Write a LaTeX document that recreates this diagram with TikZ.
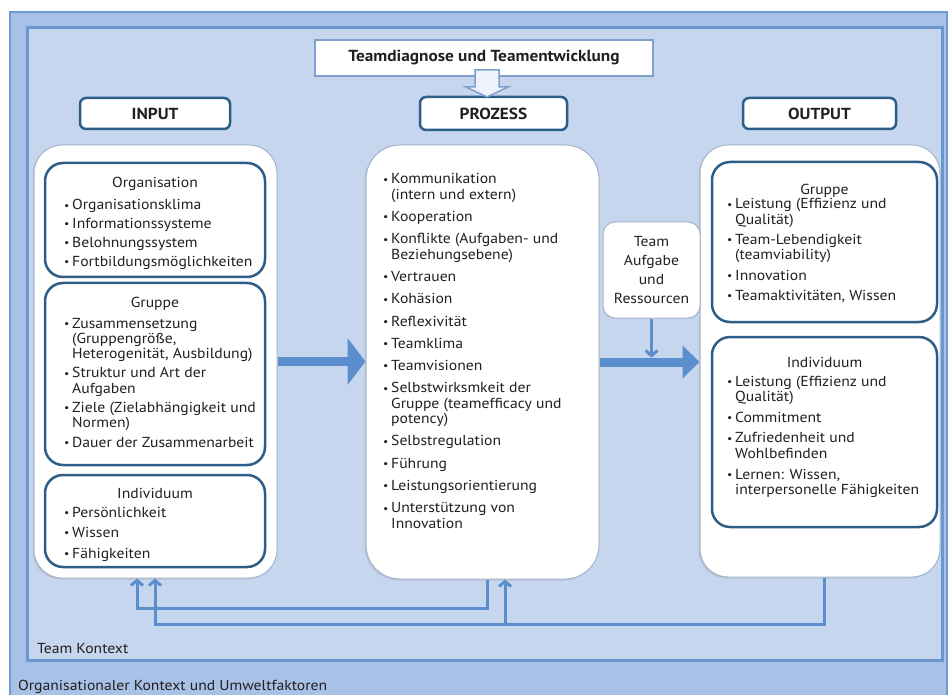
\documentclass[tikz,border=0pt]{standalone}
\usepackage{fontspec}
\usepackage{graphicx}
\setmainfont{PT Sans}[FakeStretch=1.08]
\usetikzlibrary{arrows.meta,calc,shadows}

\definecolor{outerbg}{HTML}{A8C1E6}
\definecolor{outerln}{HTML}{6F9BD3}
\definecolor{innerbg}{HTML}{C6D6EE}
\definecolor{innerln}{HTML}{6A97CE}
\definecolor{boxln}{HTML}{2D5E88}
\definecolor{arrowc}{HTML}{5A8ECC}
\definecolor{txt}{HTML}{231F20}
\definecolor{shellln}{HTML}{A3B3C8}
\definecolor{diagln}{HTML}{7FA0CA}
\definecolor{diagfill}{HTML}{EEF3FB}

% small list bullet followed by the gap before the item text
\newcommand\bul{\makebox[8pt][l]{\raisebox{0.1ex}{\scalebox{0.75}{\textbullet}}}}
\newcommand\txtsize{\fontsize{14.5}{15.3}\selectfont}
\newcommand\hdrsize{\bfseries\fontsize{16}{18}\selectfont}

\begin{document}
\begin{tikzpicture}[x=1pt,y=-1pt,
  every node/.append style={text=txt},
  hdr/.style={draw=boxln, line width=2.5pt, rounded corners=6pt, fill=white,
    font=\hdrsize, inner sep=0pt},
  shell/.style={draw=shellln, line width=1pt, fill=white, rounded corners=28pt, inner sep=0pt,
    drop shadow={shadow xshift=-1.5pt, shadow yshift=-1.5pt, opacity=0.18}},
  grpbox/.style={draw=boxln, line width=2.5pt, fill=white, rounded corners=18pt, inner sep=0pt},
  lst/.style={anchor=base west, inner sep=0pt, font=\txtsize},
  ttl/.style={anchor=base, inner sep=0pt, font=\txtsize},
  bigarr/.style={draw=arrowc, line width=9pt},
  fb/.style={draw=arrowc, line width=3pt},
  fbtip/.style={-{Straight Barb[length=5pt,width=12pt]}}
]
\useasboundingbox (0,0) rectangle (951,695);
\fill[white] (0,0) rectangle (951,695);

% organisational context and team context frames
\draw[outerln, line width=2pt, fill=outerbg] (10,12) rectangle (947,698);
\draw[innerln, line width=3pt, fill=innerbg] (27,28) rectangle (942,660);

\node[lst] (tk) at (37,653) {Team Kontext};
\node[lst] (ok) at (18,690) {Organisationaler Kontext und Umweltfaktoren};

% team diagnosis box and process header, joined by a hollow arrow
\node[draw=diagln, line width=1.5pt, fill=white, minimum width=338pt, minimum height=36pt,
  inner sep=0pt, font=\hdrsize] (diag) at (484,58) {Teamdiagnose und Teamentwicklung};
\node[hdr, minimum width=147pt, minimum height=33pt] (prz) at (493.5,113.5) {PROZESS};
\path[draw=diagln, line width=1.5pt, fill=diagfill]
  (475,70) -- (475,87) -- (466,87) -- (487,97) -- (508,87) -- (499,87) -- (499,70) -- cycle;

% remaining column headers
\node[hdr, minimum width=150pt, minimum height=31pt] (inp) at (155,113.5) {INPUT};
\node[hdr, minimum width=153pt, minimum height=31pt] (outp) at (819.5,113.5) {OUTPUT};

% column containers
\node[shell, minimum width=243pt, minimum height=433pt] (cin) at (155.5,361.5) {};
\node[shell, minimum width=233pt, minimum height=434pt, rounded corners=34pt] (cpr) at (482.5,362) {};
\node[shell, minimum width=240pt, minimum height=432pt] (cout) at (820,361) {};

% input groups
\node[grpbox, minimum width=220pt, minimum height=114pt] (org) at (155,220) {};
\node[grpbox, minimum width=220pt, minimum height=182pt] (grp) at (155,374) {};
\node[grpbox, minimum width=220pt, minimum height=92pt] (ind) at (155,521) {};
% output groups
\node[grpbox, minimum width=225pt, minimum height=160pt] (ogrp) at (824.5,242) {};
\node[grpbox, minimum width=225pt, minimum height=190pt] (oind) at (824.5,432) {};

% task and resources
\node[draw=shellln, line width=1pt, fill=white, rounded corners=12pt, minimum width=97pt,
  minimum height=96pt, inner sep=0pt, align=center, font=\fontsize{14.5}{19.3}\selectfont]
  (tb) at (651.5,270) {Team\\Aufgabe\\und\\Ressourcen};

% input texts
\node[ttl] (orgt) at (155,188) {Organisation};
\node[lst] (orgl) at (64,210) {\begin{tabular}[t]{@{}l@{}l@{}}
\bul & Organisationsklima\\[3.4pt]
\bul & Informationssysteme\\[3.4pt]
\bul & Belohnungssystem\\[3.4pt]
\bul & Fortbildungsmöglichkeiten
\end{tabular}};

\node[ttl] (grpt) at (155,308) {Gruppe};
\node[lst] (grpl) at (64,328) {\begin{tabular}[t]{@{}l@{}l@{}}
\bul & Zusammensetzung\\
     & (Gruppengröße,\\
     & Heterogenität, Ausbildung)\\[4pt]
\bul & Struktur und Art der\\
     & Aufgaben\\[4pt]
\bul & Ziele (Zielabhängigkeit und\\
     & Normen)\\[4pt]
\bul & Dauer der Zusammenarbeit
\end{tabular}};

\node[ttl] (indt) at (155,498) {Individuum};
\node[lst] (indl) at (64,517) {\begin{tabular}[t]{@{}l@{}l@{}}
\bul & Persönlichkeit\\[5.2pt]
\bul & Wissen\\[5.2pt]
\bul & Fähigkeiten
\end{tabular}};

% process texts
\node[lst] (przl) at (383,184) {\begin{tabular}[t]{@{}l@{}l@{}}
\bul & Kommunikation\\
     & (intern und extern)\\[7pt]
\bul & Kooperation\\[7pt]
\bul & Konflikte (Aufgaben- und\\
     & Beziehungsebene)\\[7pt]
\bul & Vertrauen\\[7pt]
\bul & Kohäsion\\[7pt]
\bul & Reflexivität\\[7pt]
\bul & Teamklima\\[7pt]
\bul & Teamvisionen\\[7pt]
\bul & Selbstwirksmkeit der\\
     & Gruppe (teamefficacy und\\
     & potency)\\[7pt]
\bul & Selbstregulation\\[7pt]
\bul & Führung\\[7pt]
\bul & Leistungsorientierung\\[7pt]
\bul & Unterstützung von\\
     & Innovation
\end{tabular}};

% output texts
\node[ttl] (ogrpt) at (824.5,195) {Gruppe};
\node[lst] (ogrpl) at (727,209) {\begin{tabular}[t]{@{}l@{}l@{}}
\bul & Leistung (Effizienz und\\
     & Qualität)\\[5pt]
\bul & Team-Lebendigkeit\\
     & (teamviability)\\[5pt]
\bul & Innovation\\[5pt]
\bul & Teamaktivitäten, Wissen
\end{tabular}};

\node[ttl] (oindt) at (824.5,367) {Individuum};
\node[lst] (oindl) at (727,386) {\begin{tabular}[t]{@{}l@{}l@{}}
\bul & Leistung (Effizienz und\\
     & Qualität)\\[5.5pt]
\bul & Commitment\\[5.5pt]
\bul & Zufriedenheit und\\
     & Wohlbefinden\\[5.5pt]
\bul & Lernen: Wissen,\\
     & interpersonelle Fähigkeiten
\end{tabular}};

% main flow arrows
\draw[bigarr, -{Triangle[length=18pt,width=46pt]}] (cin.east) -- (cin.east -| cpr.west);
\draw[bigarr, -{Triangle[length=17pt,width=32pt]}] (cpr.east) -- (cpr.east -| cout.west);
\draw[fb, fbtip] (tb.south) -- ++(0,39);

% feedback loops
\coordinate (f1) at (487,608);
\coordinate (l1) at (137,0);
\coordinate (f2) at (824,624);
\coordinate (l2) at (155,0);
\coordinate (b2) at (505,624);
\draw[fb, fbtip] (cpr.south -| f1) -- (f1) -| (cin.south -| l1);
\draw[fb, fbtip] (cout.south -| f2) -- (f2) -| (cin.south -| l2);
\draw[fb, fbtip] (b2) -- (cpr.south -| b2);
\end{tikzpicture}
\end{document}
